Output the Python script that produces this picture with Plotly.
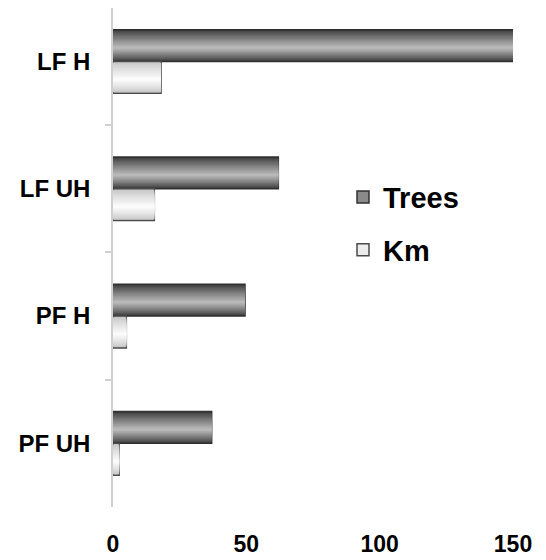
import plotly.graph_objects as go

categories = ["LF H", "LF UH", "PF H", "PF UH"]
trees = [150, 62, 49.5, 37]
km = [18, 15.5, 5, 2.3]
series_names = ["Trees", "Km"]
x_ticks = [0, 50, 100, 150]

FONT = "Liberation Sans, Arial, sans-serif"
BAR_W = 0.25
N_LAYERS = 14
BRIGHT_POS = 0.57  # fraction from top where gradient is lightest

styles = {
    "Trees": dict(edge=(58, 58, 58), mid=(192, 192, 192), line="#303030", legend="#8a8a8a", start=-BAR_W),
    "Km": dict(edge=(196, 196, 196), mid=(255, 255, 255), line="#4a4a4a", legend="#ececec", start=0.0),
}
values = {"Trees": trees, "Km": km}


def mix(a, b, t):
    return "rgb(%d,%d,%d)" % tuple(round(a[i] + (b[i] - a[i]) * t) for i in range(3))


fig = go.Figure()
for name in series_names:
    st = styles[name]
    for k in range(N_LAYERS):
        t = k / N_LAYERS
        width = BAR_W * (1 - t)
        offset = st["start"] + BAR_W * BRIGHT_POS * t
        fig.add_trace(go.Bar(
            y=categories, x=values[name], orientation="h",
            width=width, offset=offset,
            marker=dict(color=mix(st["edge"], st["mid"], t ** 0.85),
                        line=dict(width=1.5 if k == 0 else 0, color=st["line"])),
            showlegend=False, hoverinfo="skip",
        ))
    # legend entry for the series
    fig.add_trace(go.Bar(
        y=categories, x=[None] * len(categories), orientation="h", name=name,
        legendgroup=name,
        marker=dict(color=st["legend"], line=dict(width=1.5, color=st["line"])),
        showlegend=True,
    ))

fig.update_layout(
    width=538, height=552,
    margin=dict(l=105, r=33, t=0, b=53),
    barmode="overlay",
    plot_bgcolor="white", paper_bgcolor="white",
    font=dict(family=FONT, color="black"),
    showlegend=True,
    legend=dict(
        x=0.575, y=0.672, xanchor="left", yanchor="top",
        font=dict(family=FONT, size=29, weight="bold"),
        traceorder="grouped", tracegroupgap=12,
        bgcolor="rgba(0,0,0,0)",
    ),
    xaxis=dict(
        range=[0, 150], tickvals=x_ticks, showgrid=False, zeroline=False,
        showline=False, ticks="",
        tickfont=dict(family=FONT, size=23, weight="bold"),
        ticklabelstandoff=21,
    ),
    yaxis=dict(
        type="category", categoryorder="array", categoryarray=categories,
        range=[3.5, -0.42],
        showgrid=False, zeroline=False, showline=True, linecolor="#d0d0d0", linewidth=1.5,
        ticks="outside", tickson="boundaries", ticklen=6, tickcolor="#d0d0d0", tickwidth=1.5,
        tickfont=dict(family=FONT, size=24, weight="bold"),
        ticklabelstandoff=16,
    ),
)

fig.write_html("out.html")
